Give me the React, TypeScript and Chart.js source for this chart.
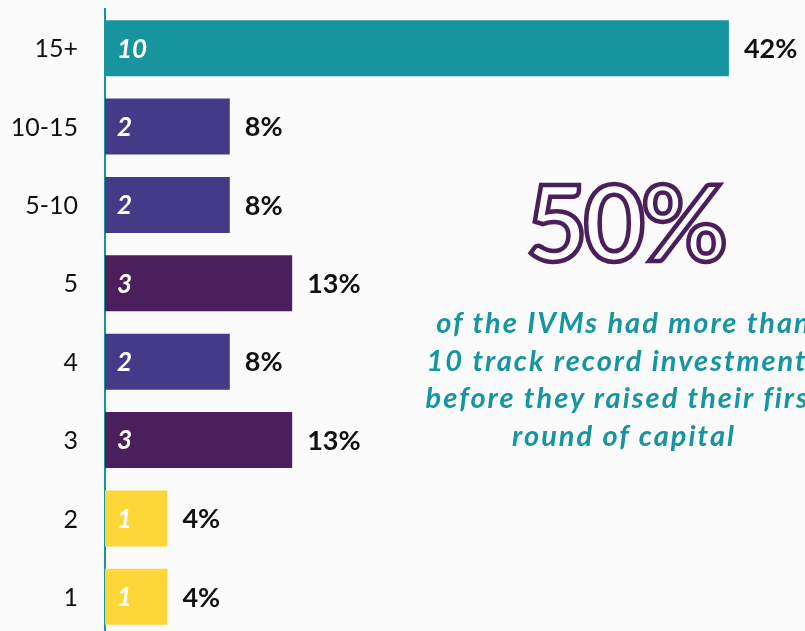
import React, { useEffect, useRef } from "react";
import { Chart, registerables } from "chart.js";

Chart.register(...registerables);

const categories = ["15+", "10-15", "5-10", "5", "4", "3", "2", "1"];
const counts = [10, 2, 2, 3, 2, 3, 1, 1];
const percentLabels = ["42%", "8%", "8%", "13%", "8%", "13%", "4%", "4%"];
const barColors = ["#17959f", "#453a87", "#453a87", "#4a1f5b", "#453a87", "#4a1f5b", "#fdd638", "#fdd638"];
const inBarLabels = ["10", "2", "2", "3", "2", "3", "1", "1"];
const highlightValue = "50%";
const highlightLines = [
  "of the IVMs had more than",
  "10 track record investments",
  "before they raised their first",
  "round of capital",
];

const FONT = "Lato, 'Open Sans', sans-serif";

const labelPlugin = {
  id: "barLabels",
  afterDatasetsDraw(chart: any) {
    const ctx = chart.ctx;
    const meta = chart.getDatasetMeta(0);
    const yScale = chart.scales.y;
    ctx.save();
    ctx.textBaseline = "middle";
    ctx.textAlign = "right";
    ctx.fillStyle = "#111111";
    ctx.font = `25px ${FONT}`;
    categories.forEach((c, i) => {
      ctx.fillText(c, yScale.right - 27, yScale.getPixelForValue(i) + 1);
    });
    meta.data.forEach((bar: any, i: number) => {
      const base = bar.base;
      const x = bar.x;
      const y = bar.y;
      ctx.textBaseline = "middle";
      ctx.textAlign = "left";
      ctx.fillStyle = "#ffffff";
      ctx.font = `italic bold 26px ${FONT}`;
      ctx.fillText(inBarLabels[i], base + 12, y + 1);
      ctx.fillStyle = "#111111";
      ctx.font = `bold 27px ${FONT}`;
      ctx.fillText(percentLabels[i], x + 15, y + 1);
    });
    ctx.restore();
  },
};

export default function App() {
  const ref = useRef<HTMLCanvasElement>(null);
  useEffect(() => {
    if (!ref.current) return;
    const chart = new Chart(ref.current, {
      type: "bar",
      data: {
        labels: categories,
        datasets: [
          {
            data: counts,
            backgroundColor: barColors,
            borderWidth: 0,
            barPercentage: 0.715,
            categoryPercentage: 1,
          },
        ],
      },
      options: {
        indexAxis: "y",
        responsive: false,
        animation: false,
        devicePixelRatio: 1,
        layout: { padding: { top: 9, right: 0, bottom: 0, left: 0 } },
        plugins: { legend: { display: false }, tooltip: { enabled: false } },
        scales: {
          x: { display: false, min: 0, max: 11.22 },
          y: {
            grid: { display: false, drawTicks: false },
            border: { display: true, color: "#17959f", width: 2 },
            ticks: { display: false },
            afterFit: (scale: any) => {
              scale.width = 105;
            },
          },
        },
      },
      plugins: [labelPlugin],
    } as any);
    return () => chart.destroy();
  }, []);

  return (
    <div
      style={{
        position: "fixed",
        left: 0,
        top: 0,
        width: 805,
        height: 631,
        overflow: "hidden",
        background: "#fbfbfb",
      }}
    >
      <canvas ref={ref} width={805} height={636} style={{ position: "absolute", left: 0, top: 0 }} />
      <div
        style={{
          position: "absolute",
          left: 425,
          width: 400,
          top: 160,
          textAlign: "center",
          fontFamily: FONT,
          fontWeight: 700,
          fontSize: 106,
          lineHeight: "120px",
          color: "#ffffff",
          WebkitTextStroke: "4.5px #4a1f5b",
          letterSpacing: -4,
        }}
      >
        {highlightValue}
      </div>
      <div
        style={{
          position: "absolute",
          left: 324,
          width: 600,
          top: 303,
          textAlign: "center",
          fontFamily: FONT,
          fontWeight: 700,
          fontStyle: "italic",
          fontSize: 29,
          lineHeight: "37.5px",
          letterSpacing: 2,
          color: "#17959f",
          whiteSpace: "nowrap",
        }}
      >
        {highlightLines.map((l, i) => (
          <div key={i}>{l}</div>
        ))}
      </div>
    </div>
  );
}
